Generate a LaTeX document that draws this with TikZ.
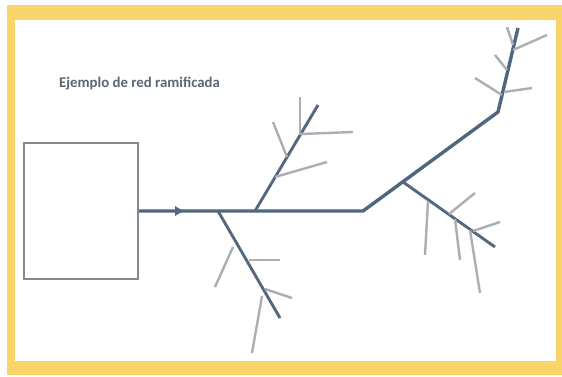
\documentclass[tikz,border=0pt]{standalone}
\usepackage{fontspec}
\setmainfont{Carlito}
\usetikzlibrary{arrows.meta}
\definecolor{frameyellow}{HTML}{F8D46A}
\definecolor{darkline}{HTML}{56687C}
\definecolor{mainline}{HTML}{4F6680}
\definecolor{lightline}{HTML}{AAAFB4}
\definecolor{boxline}{HTML}{85888C}
\definecolor{titlecol}{HTML}{5E6770}
\tikzset{
  mainpipe/.style={draw=mainline, line width=3.4pt},
  darkpipe/.style={draw=darkline, line width=2.9pt},
  lightpipe/.style={draw=lightline, line width=2.4pt},
  tankbox/.style={draw=boxline, line width=2pt, fill=white, minimum width=114pt, minimum height=136pt, inner sep=0pt},
}
\begin{document}
\begin{tikzpicture}[x=1pt,y=-1pt]
\useasboundingbox (0,0) rectangle (562,376);
% frame
\fill[frameyellow] (7,5) rectangle (562,375);
\fill[white] (15,20) rectangle (556,361);
% title
\node[anchor=west, inner sep=0pt, text=titlecol, font=\fontsize{14.8}{17}\selectfont\bfseries] (title) at (59,84) {Ejemplo de red ramificada};
% tank
\node[tankbox] (tank) at (81,211) {};
% main line coordinates
\coordinate (a0) at (170,211);
\coordinate (a) at (184,211);
\coordinate (j1) at (218,211);
\coordinate (j2) at (255,211);
\coordinate (j3) at (363,211);
\coordinate (j4) at (403,182);
\coordinate (j5) at (498,112);
\coordinate (top) at (518,28);
% branch ends
\coordinate (uEnd) at (318,105);
\coordinate (lEnd) at (280,318);
\coordinate (dEnd) at (495,247);
% main pipe
\draw[mainpipe, line join=round] (tank.east) -- (j3) -- (j5) -- (top);
\draw[draw=mainline, fill=mainline, line width=0.1pt, -{Latex[length=9pt,width=10pt]}] (a0) -- (a);
% dark branches
\draw[darkpipe] (j2) -- (uEnd);
\draw[darkpipe] (j1) -- (lEnd);
\draw[darkpipe] (j4) -- (dEnd);
% light branches: upper branch
\coordinate (uA0) at (287,157); \coordinate (uA1) at (273,122);
\coordinate (uB0) at (275,177); \coordinate (uB1) at (327,162);
\coordinate (uC0) at (300,135); \coordinate (uC1) at (300,97);
\coordinate (uD0) at (301,134); \coordinate (uD1) at (353,132);
\draw[lightpipe] (uA0) -- (uA1);
\draw[lightpipe] (uB0) -- (uB1);
\draw[lightpipe] (uC0) -- (uC1);
\draw[lightpipe] (uD0) -- (uD1);
% lower branch
\coordinate (lA0) at (233,247); \coordinate (lA1) at (215,287);
\coordinate (lB0) at (249,260); \coordinate (lB1) at (280,260);
\coordinate (lC0) at (265,289); \coordinate (lC1) at (292,298);
\coordinate (lD0) at (262,296); \coordinate (lD1) at (252,353);
\draw[lightpipe] (lA0) -- (lA1);
\draw[lightpipe] (lB0) -- (lB1);
\draw[lightpipe] (lC0) -- (lC1);
\draw[lightpipe] (lD0) -- (lD1);
% diagonal branch
\coordinate (dA0) at (428,201); \coordinate (dA1) at (425,255);
\coordinate (dB0) at (455,219); \coordinate (dB1) at (460,260);
\coordinate (dC0) at (470,230); \coordinate (dC1) at (480,293);
\coordinate (dD0) at (449,214); \coordinate (dD1) at (475,193);
\coordinate (dE0) at (473,231); \coordinate (dE1) at (500,222);
\draw[lightpipe] (dA0) -- (dA1);
\draw[lightpipe] (dB0) -- (dB1);
\draw[lightpipe] (dC0) -- (dC1);
\draw[lightpipe] (dD0) -- (dD1);
\draw[lightpipe] (dE0) -- (dE1);
% upper segment
\coordinate (tA0) at (513,50); \coordinate (tA1) at (547,35);
\coordinate (tB0) at (507,70); \coordinate (tB1) at (495,55);
\coordinate (tC0) at (502,95); \coordinate (tC1) at (475,78);
\coordinate (tD0) at (504,92); \coordinate (tD1) at (532,88);
\coordinate (tE0) at (513,45); \coordinate (tE1) at (507,27);
\draw[lightpipe] (tA0) -- (tA1);
\draw[lightpipe] (tB0) -- (tB1);
\draw[lightpipe] (tC0) -- (tC1);
\draw[lightpipe] (tD0) -- (tD1);
\draw[lightpipe] (tE0) -- (tE1);
\end{tikzpicture}
\end{document}
